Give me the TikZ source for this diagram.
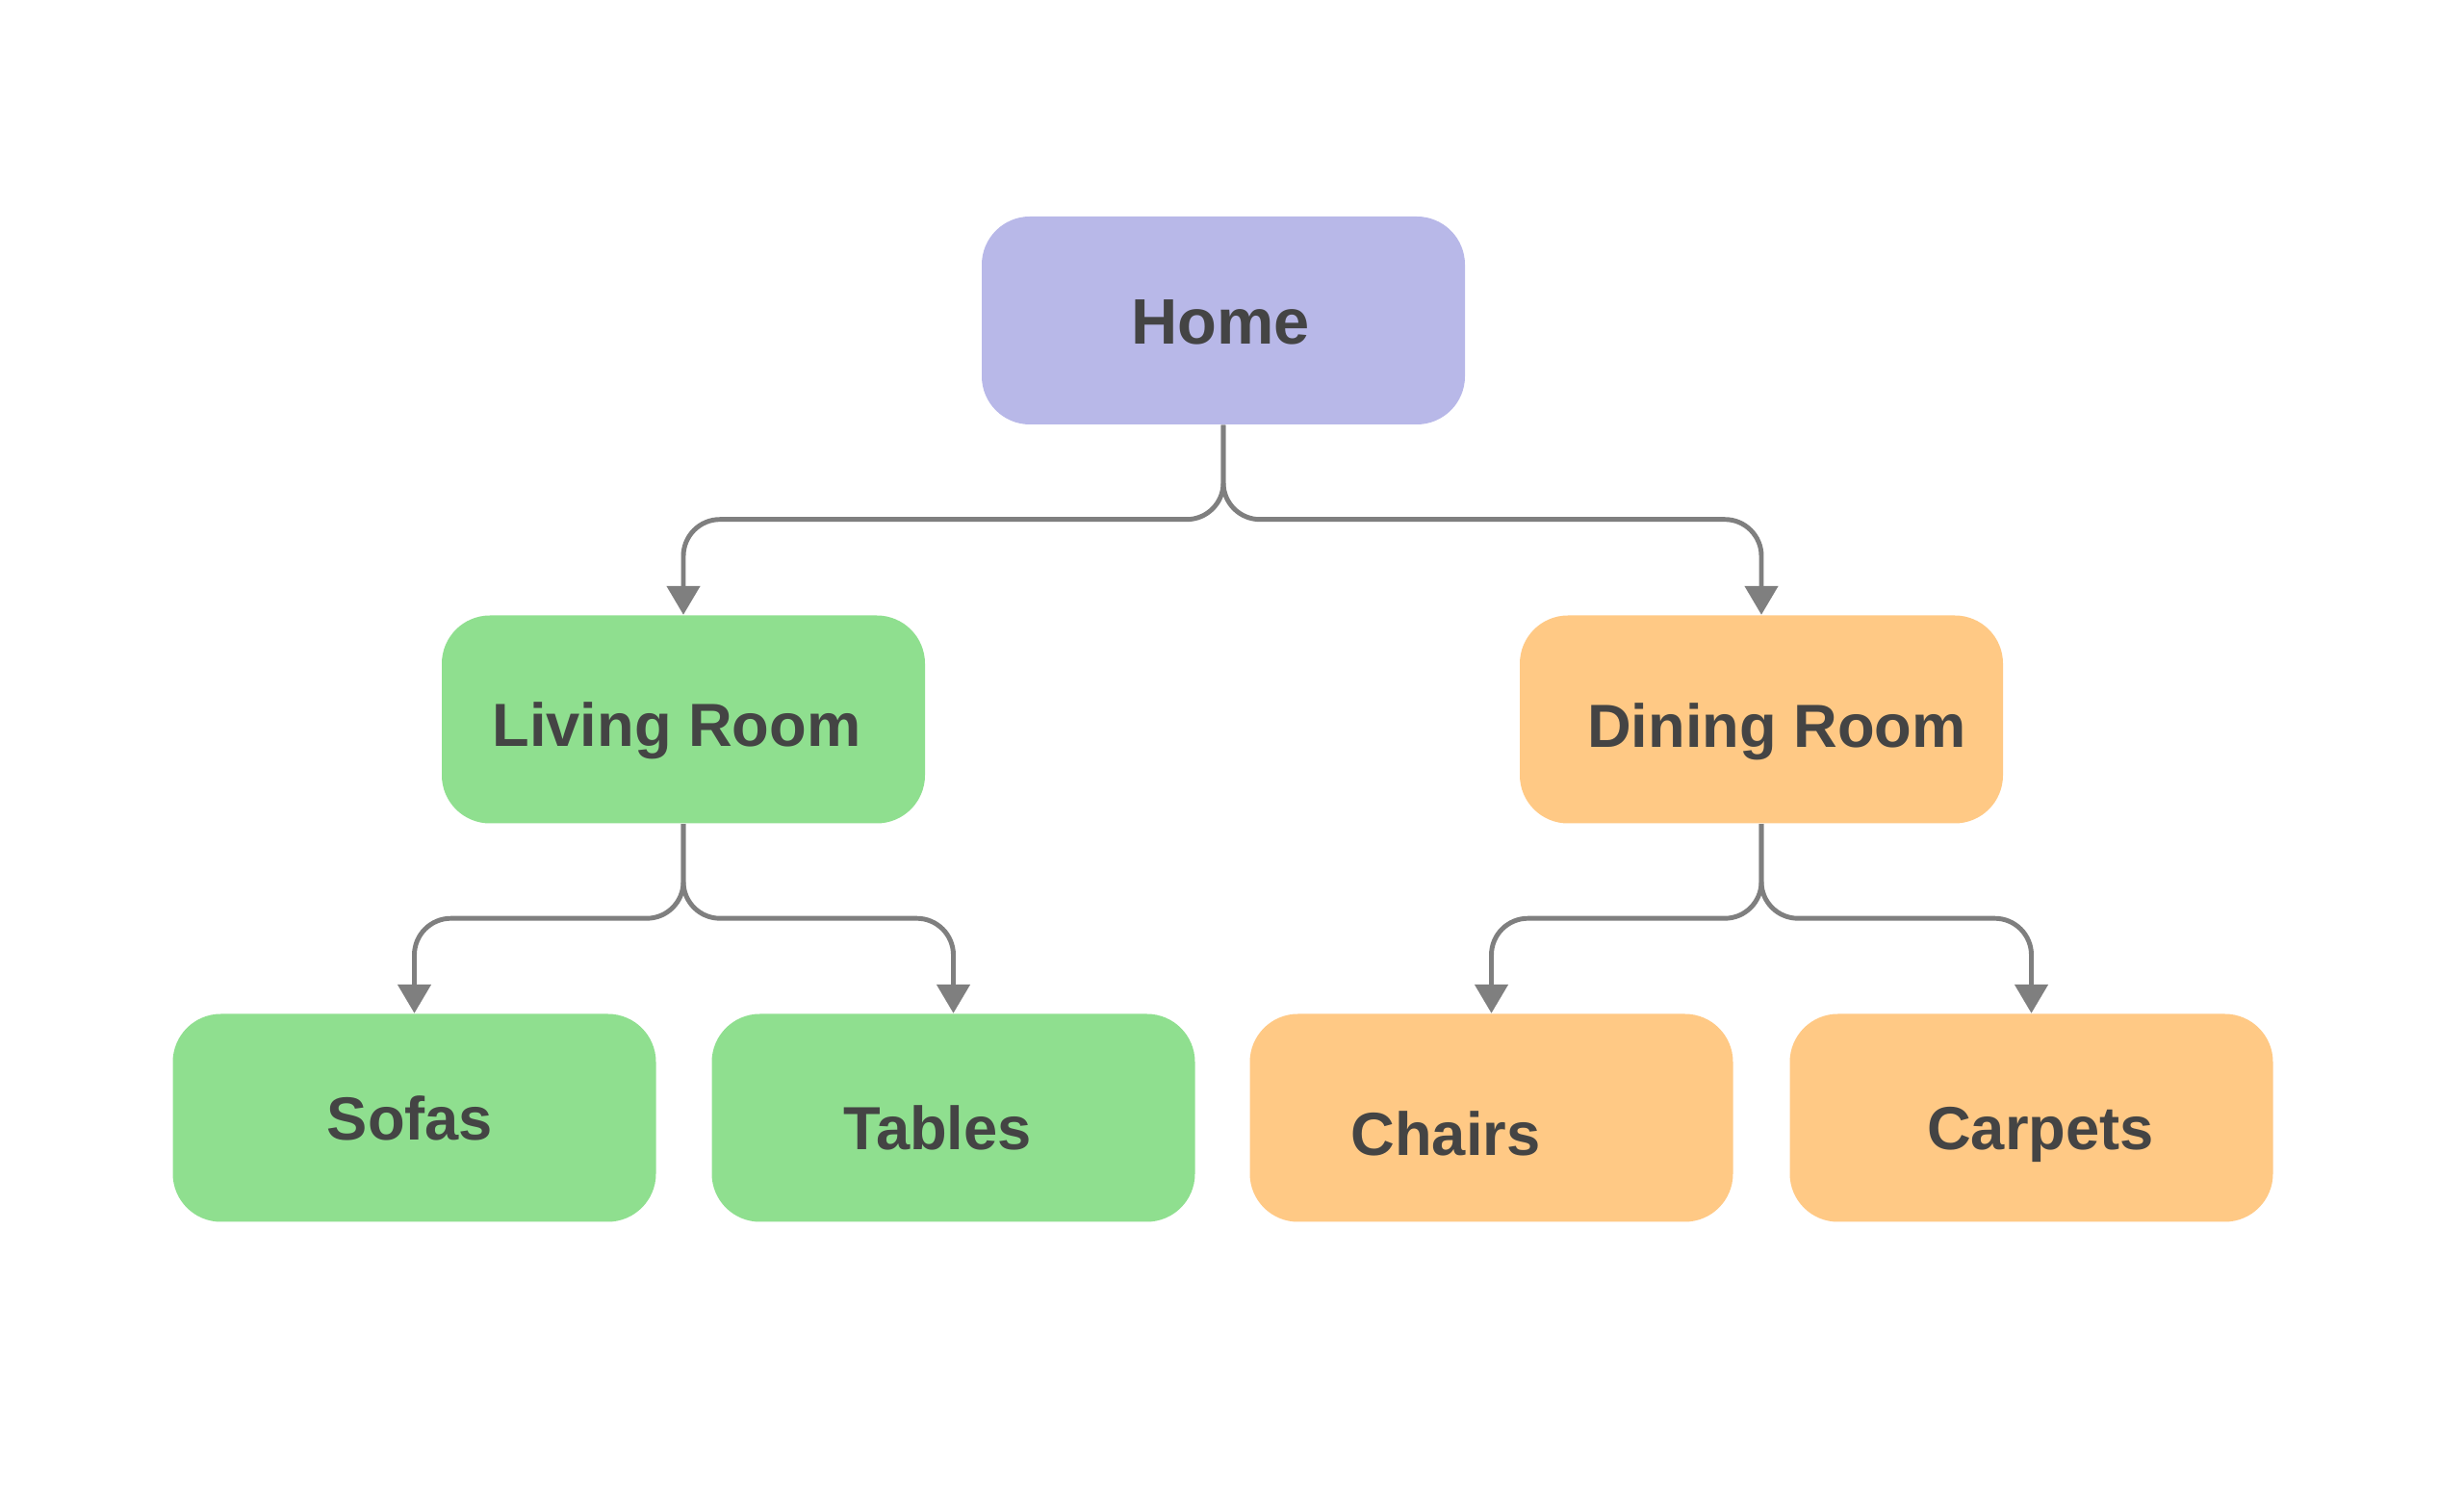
\documentclass[tikz,border=0pt]{standalone}
\usepackage{fontspec}
\setmainfont{Liberation Sans}
\usepackage{tikz}
\usetikzlibrary{arrows.meta, positioning, calc}
\definecolor{tikzlilac}{HTML}{B8B8E8}
\definecolor{tikzgreen}{HTML}{8FDF8F}
\definecolor{tikzorange}{HTML}{FFC985}
\definecolor{tikzgray}{HTML}{7F7F7F}
\definecolor{tikztext}{HTML}{444444}

\begin{document}
\begin{tikzpicture}[
    box/.style={rounded corners=0.5cm, minimum width=5.02cm, minimum height=2.16cm, inner sep=0pt},
    lbl/.style={font=\fontsize{18}{22}\selectfont\bfseries, text=tikztext, inner sep=0pt},
    link/.style={draw=tikzgray, line width=1.4pt, rounded corners=0.38cm, -{Triangle[length=0.3cm, width=0.34cm]}}
  ]
          \useasboundingbox (0,0) rectangle (25.6,15.7);
          \fill[white] (0,0) rectangle (25.6,15.7);
          % boxes
          \node[box, fill=tikzlilac] (home) at (12.71,12.37) {};
          \node[box, fill=tikzgreen] (living) at (7.10,8.225) {};
          \node[box, fill=tikzorange] (dining) at (18.30,8.225) {};
          \node[box, fill=tikzgreen] (sofas) at (4.305,4.085) {};
          \node[box, fill=tikzgreen] (tables) at (9.905,4.085) {};
          \node[box, fill=tikzorange] (chairs) at (15.495,4.085) {};
          \node[box, fill=tikzorange] (carpets) at (21.105,4.085) {};
          % labels
          \node[lbl, font=\fontsize{19}{23}\selectfont\bfseries] (homelbl) at (12.68,12.35) {Home};
          \node[lbl] (livinglbl) at (7.03,8.11) {Living Room};
          \node[lbl] (dininglbl) at (18.46,8.10) {Dining Room};
          \node[lbl] (sofaslbl) at (4.26,4.08) {Sofas};
          \node[lbl] (tableslbl) at (9.74,3.98) {Tables};
          \node[lbl] (chairslbl) at (15.02,3.92) {Chairs};
          \node[lbl] (carpetslbl) at (21.20,3.91) {Carpets};
          % connectors
          \draw[link] (home.south) -- ++(0,-0.98) -| (living.north);
          \draw[link] (home.south) -- ++(0,-0.98) -| (dining.north);
          \draw[link] (living.south) -- ++(0,-0.98) -| (sofas.north);
          \draw[link] (living.south) -- ++(0,-0.98) -| (tables.north);
          \draw[link] (dining.south) -- ++(0,-0.98) -| (chairs.north);
          \draw[link] (dining.south) -- ++(0,-0.98) -| (carpets.north);
        \end{tikzpicture}
\end{document}
